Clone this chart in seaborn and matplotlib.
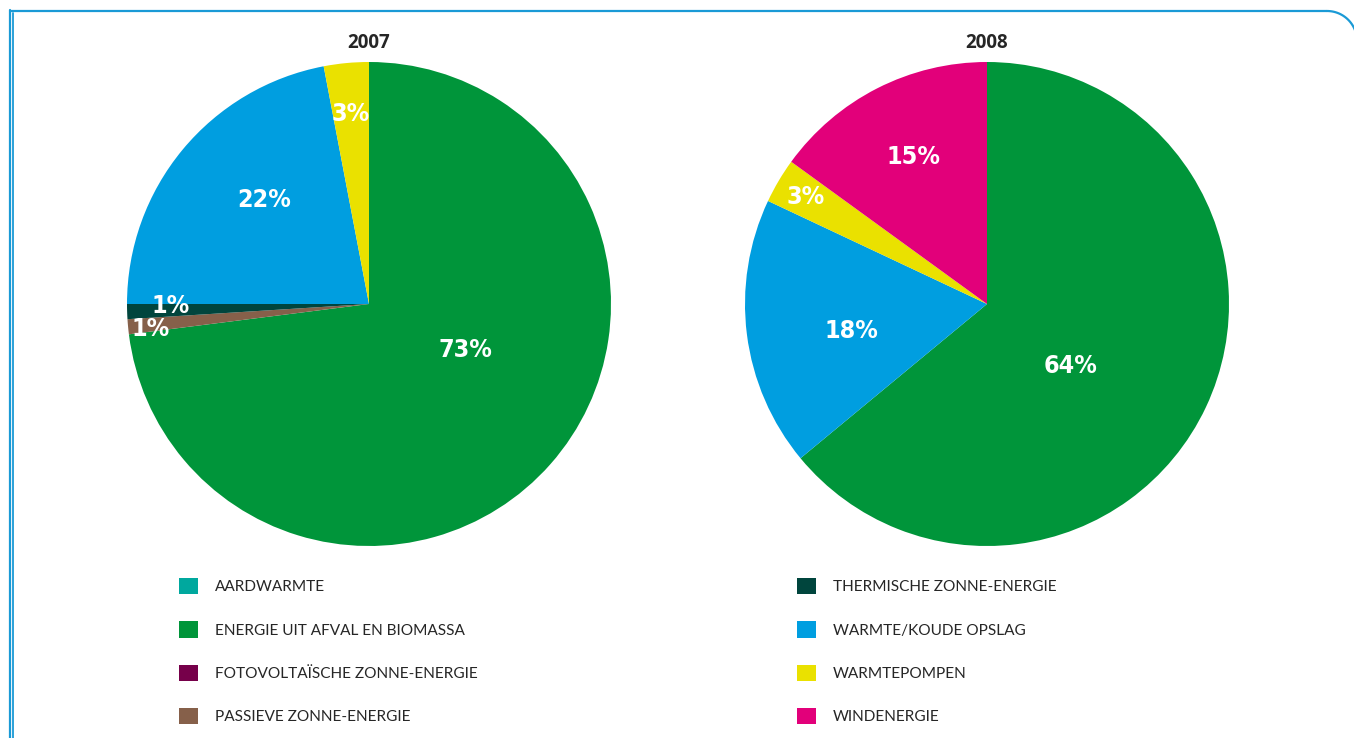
import numpy as np
import matplotlib
matplotlib.use("Agg")
import matplotlib.pyplot as plt
from matplotlib.patches import Patch
import seaborn as sns

# data
categories = ['AARDWARMTE', 'ENERGIE UIT AFVAL EN BIOMASSA', 'FOTOVOLTAÏSCHE ZONNE-ENERGIE',
              'PASSIEVE ZONNE-ENERGIE', 'THERMISCHE ZONNE-ENERGIE', 'WARMTE/KOUDE OPSLAG',
              'WARMTEPOMPEN', 'WINDENERGIE']
colors = ['#00a89e', '#00953a', '#76004a', '#86604a', '#00453d', '#009ee0', '#eae100', '#e2007a']

cats_2007 = ['ENERGIE UIT AFVAL EN BIOMASSA', 'PASSIEVE ZONNE-ENERGIE', 'THERMISCHE ZONNE-ENERGIE',
             'WARMTE/KOUDE OPSLAG', 'WARMTEPOMPEN']
vals_2007 = [73, 1, 1, 22, 3]
cats_2008 = ['ENERGIE UIT AFVAL EN BIOMASSA', 'WARMTE/KOUDE OPSLAG', 'WARMTEPOMPEN', 'WINDENERGIE']
vals_2008 = [64, 18, 3, 15]

# label placement (angle in degrees, radius as fraction of pie radius)
lab_ang_2007 = [-25.4, 186.5, 180.6, 135, 95.4]
lab_rad_2007 = [0.44, 0.91, 0.82, 0.61, 0.79]
lab_ang_2008 = [-36.9, 191.3, 149.6, 116.6]
lab_rad_2008 = [0.43, 0.57, 0.87, 0.68]

sns.set_style('white')
W, H = 1354, 738
fig = plt.figure(figsize=(W / 100, H / 100), dpi=100)
cmap = dict(zip(categories, colors))

# frame
bg = fig.add_axes([0, 0, 1, 1])
bg.set_xlim(0, W)
bg.set_ylim(H, 0)
bg.axis('off')
fc = '#1a9ad6'
bg.plot([10, 1327], [11, 11], color=fc, lw=1.6, solid_capstyle='butt')
t = np.linspace(np.pi / 2, 0, 40)
bg.plot(1327 + 30 * np.cos(t), 41 - 30 * np.sin(t), color=fc, lw=1.6)
bg.plot([10, 10], [10, H], color=fc, lw=1.6)
bg.plot([13, 13], [13, H], color=fc, lw=1.3)


def draw_pie(cx, title, cats, vals, angs, rads):
    r = 242
    ax = fig.add_axes([(cx - r) / W, (H - 304 - r) / H, 2 * r / W, 2 * r / H])
    ax.pie(vals, colors=[cmap[c] for c in cats], startangle=90, counterclock=False,
           radius=1, wedgeprops=dict(linewidth=0))
    ax.set_xlim(-1, 1)
    ax.set_ylim(-1, 1)
    ax.axis('off')
    for v, a, rr in zip(vals, angs, rads):
        ax.text(rr * np.cos(np.radians(a)), rr * np.sin(np.radians(a)), f'{v}%',
                ha='center', va='center', color='white', fontsize=18, fontweight='bold',
                family='DejaVu Sans', fontstretch='condensed')
    fig.text(cx / W, 1 - 43 / H, title, ha='center', va='center', fontsize=13.5,
             fontweight='bold', family=['Open Sans', 'DejaVu Sans'])


draw_pie(369, '2007', cats_2007, vals_2007, lab_ang_2007, lab_rad_2007)
draw_pie(987, '2008', cats_2008, vals_2008, lab_ang_2008, lab_rad_2008)

# legends
for i, x0 in enumerate([179, 797]):
    names = categories[4 * i:4 * i + 4]
    handles = [Patch(facecolor=cmap[n], edgecolor='none') for n in names]
    fig.legend(handles, names, loc='upper left', bbox_to_anchor=(x0 / W, 1 - 578 / H),
               frameon=False, borderpad=0, borderaxespad=0, handlelength=1.25,
               handleheight=1.25, handletextpad=1.08, labelspacing=1.75,
               prop=dict(family=['Lato', 'DejaVu Sans'], size=11.1))

plt.savefig('out.png', dpi=100)
